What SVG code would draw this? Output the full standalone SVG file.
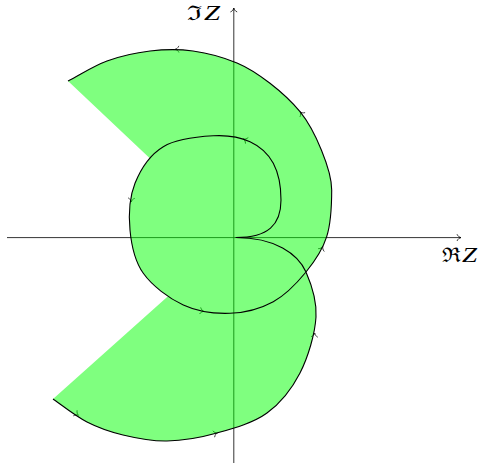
<svg xmlns="http://www.w3.org/2000/svg" width="478" height="468" viewBox="0 0 478 468">
<defs>
<style>
.axis{stroke:#000;stroke-width:0.8;fill:none}
.tip{stroke:#000;stroke-width:0.8;fill:none;stroke-linecap:round}
.mark{stroke:#000;stroke-width:0.7;fill:none;stroke-linecap:round}
.region{fill:#00ff00;fill-opacity:0.5;stroke:none}
.curve{fill:none;stroke:#000;stroke-width:1.1;stroke-linejoin:round}
.lbl{font-family:"DejaVu Serif","Liberation Serif",serif;font-size:20px;fill:#000}
.it{font-family:"Liberation Serif","DejaVu Serif",serif;font-style:italic;font-size:20px;fill:#000}
</style>
<path id="chev" d="M-3.8,-3 C-3,-1.2 -1.5,-0.3 0,0 C-1.5,0.3 -3,1.2 -3.8,3"/>
</defs>
<g id="axes">
<line class="axis" x1="7" y1="237.6" x2="461" y2="237.6"/>
<line class="axis" x1="233.8" y1="463" x2="233.8" y2="8"/>
<use href="#chev" class="tip" transform="translate(461,237.6)"/>
<use href="#chev" class="tip" transform="translate(233.8,8) rotate(-90)"/>
</g>
<g id="arrows">
<use href="#chev" class="mark" transform="translate(78.5,415.3) rotate(34)"/>
<use href="#chev" class="mark" transform="translate(217.5,432.9) rotate(-16)"/>
<use href="#chev" class="mark" transform="translate(314.8,333) rotate(-85)"/>
<use href="#chev" class="mark" transform="translate(322.9,246.5) rotate(-65)"/>
<use href="#chev" class="mark" transform="translate(300,111.7) rotate(-129.5)"/>
<use href="#chev" class="mark" transform="translate(175,49.3) rotate(179)"/>
<use href="#chev" class="mark" transform="translate(243.3,138.9) rotate(-155)"/>
<use href="#chev" class="mark" transform="translate(131.2,202) rotate(94)"/>
<use href="#chev" class="mark" transform="translate(204,311.4) rotate(10)"/>
</g>
<g id="region">
<path class="region" d="M53,399 C58.7,402.8 75.3,416 87,422 C98.7,428 109.7,431.8 123,435 C136.3,438.2 151.3,441.3 167,441 C182.7,440.7 200.3,437.7 217,433 C233.7,428.3 253.2,423 267,413 C280.8,403 291.8,389 300,373 C308.2,357 315,333.7 316,317 C317,300.3 311.8,285.3 306,272 C298,254 275,237.5 236,237.5 C268,237.5 281,225 281,200 C281,188 278.47,173.02 273.3,163.3 C268.13,153.58 260,146.28 250,141.7 C240,137.12 227.75,134.97 213.3,135.8 C198.85,136.63 176.35,138.78 163.3,146.7 C150.25,154.62 140.55,169.42 135,183.3 C129.45,197.18 128.62,215 130,230 C131.38,245 134.42,260.8 143.3,273.3 C152.18,285.8 168.85,298.33 183.3,305 C197.75,311.67 215,313.85 230,313.3 C245,312.75 260.63,308.58 273.3,301.7 C285.97,294.82 297.1,282.83 306,272 C314.9,261.17 322.42,250.37 326.7,236.7 C330.98,223.03 331.7,202.78 331.7,190 C331.7,170 315,130 300,111.7 C292.22,102.25 280.5,91.42 270,83.3 C259.5,75.18 249.83,68.38 237,63 C224.17,57.62 207.5,53 193,51 C178.5,49 164.33,49.33 150,51 C135.67,52.67 120.67,56 107,61 C93.33,66 81,74.33 68,81 L233.7,237.5 Z"/>
</g>
<g id="curve">
<path class="curve" d="M53,399 C58.7,402.8 75.3,416 87,422 C98.7,428 109.7,431.8 123,435 C136.3,438.2 151.3,441.3 167,441 C182.7,440.7 200.3,437.7 217,433 C233.7,428.3 253.2,423 267,413 C280.8,403 291.8,389 300,373 C308.2,357 315,333.7 316,317 C317,300.3 311.8,285.3 306,272 C298,254 275,237.5 236,237.5 C268,237.5 281,225 281,200 C281,188 278.47,173.02 273.3,163.3 C268.13,153.58 260,146.28 250,141.7 C240,137.12 227.75,134.97 213.3,135.8 C198.85,136.63 176.35,138.78 163.3,146.7 C150.25,154.62 140.55,169.42 135,183.3 C129.45,197.18 128.62,215 130,230 C131.38,245 134.42,260.8 143.3,273.3 C152.18,285.8 168.85,298.33 183.3,305 C197.75,311.67 215,313.85 230,313.3 C245,312.75 260.63,308.58 273.3,301.7 C285.97,294.82 297.1,282.83 306,272 C314.9,261.17 322.42,250.37 326.7,236.7 C330.98,223.03 331.7,202.78 331.7,190 C331.7,170 315,130 300,111.7 C292.22,102.25 280.5,91.42 270,83.3 C259.5,75.18 249.83,68.38 237,63 C224.17,57.62 207.5,53 193,51 C178.5,49 164.33,49.33 150,51 C135.67,52.67 120.67,56 107,61 C93.33,66 81,74.33 68,81"/>
</g>
<g id="labels">
<text class="lbl" x="187" y="19.5" textLength="15" lengthAdjust="spacingAndGlyphs">ℑ</text>
<text class="it" x="204" y="19.5" textLength="16" lengthAdjust="spacingAndGlyphs">Z</text>
<text class="lbl" x="442" y="261.7" textLength="19" lengthAdjust="spacingAndGlyphs">ℜ</text>
<text class="it" x="462" y="261.7" textLength="15" lengthAdjust="spacingAndGlyphs">Z</text>
</g>
</svg>
